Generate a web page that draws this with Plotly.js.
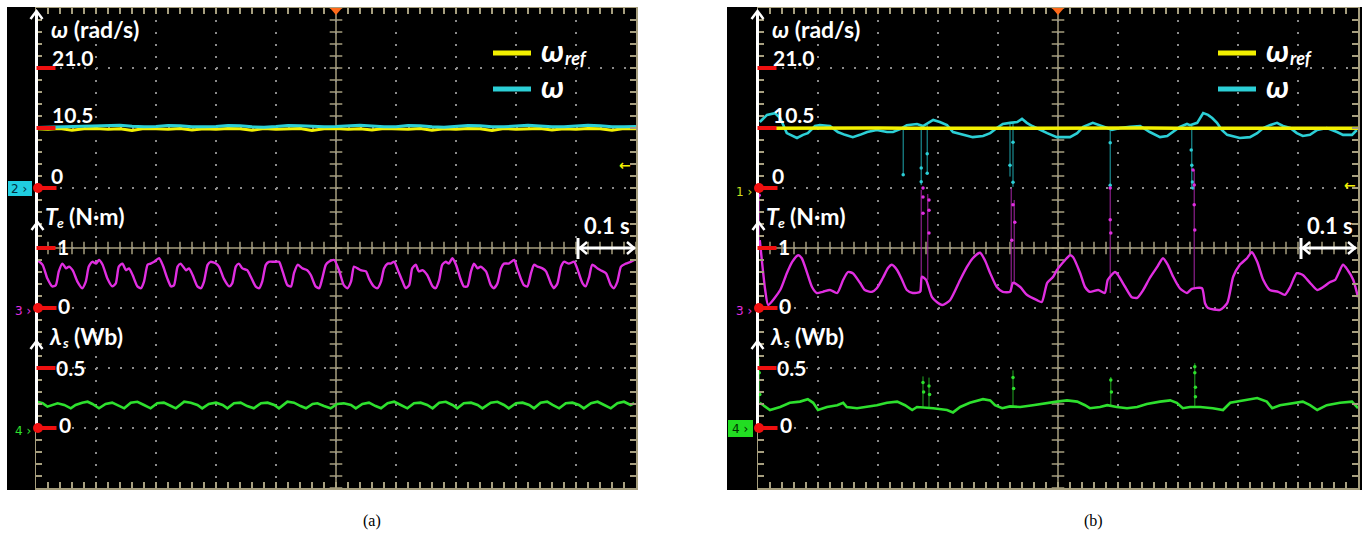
<!DOCTYPE html>
<html><head><meta charset="utf-8">
<script src="https://cdn.plot.ly/plotly-3.0.1.min.js"></script>
<style>html,body{margin:0;padding:0;background:#fff;}#chart{width:1366px;height:534px;}</style>
</head><body><div id="chart"></div>
<script>
// ===== DATA (time in s, 0.1 s/div; values in physical units) =====
// Panel (a)
const wrefA_t = [0,0.02,0.04,0.06,0.08,0.10,0.12,0.14,0.16,0.18,0.20,0.22,0.24,0.26,0.28,0.30,0.32,0.34,0.36,0.38,0.40,0.42,0.44,0.46,0.48,0.50,0.52,0.54,0.56,0.58,0.60,0.62,0.64,0.66,0.68,0.70,0.72,0.74,0.76,0.78,0.80,0.82,0.84,0.86,0.88,0.90,0.92,0.94,0.96,0.98,1.00];
const wrefA_v = [10.35,10.3,10.4,10.1,10.35,10.4,10.3,10.35,10.05,10.4,10.35,10.3,10.4,10.15,10.35,10.3,10.4,10.35,10.1,10.4,10.3,10.35,10.4,10.05,10.35,10.4,10.3,10.35,10.15,10.4,10.35,10.3,10.4,10.1,10.35,10.3,10.4,10.35,10.05,10.4,10.3,10.35,10.4,10.15,10.35,10.3,10.4,10.35,10.1,10.4,10.35];
const wA_t = wrefA_t;
const wA_v = [10.6,10.65,10.7,10.7,10.75,10.8,10.95,11.0,10.8,10.7,10.75,10.95,10.9,10.7,10.7,10.75,10.95,10.9,10.7,10.65,10.75,10.95,10.9,10.75,10.7,10.75,10.85,11.0,10.85,10.7,10.7,10.95,10.9,10.7,10.65,10.75,10.95,10.9,10.7,10.7,10.8,11.0,10.85,10.7,10.7,10.8,11.0,10.9,10.7,10.7,10.75];
const teA_t = [0.002,0.011,0.019,0.027,0.033,0.038,0.044,0.050,0.055,0.061,
 0.069,0.077,0.083,0.088,0.094,0.100,0.105,0.111,0.119,0.127,
 0.133,0.138,0.144,0.150,0.155,0.161,0.169,0.175,0.180,0.186,
 0.191,0.197,0.205,0.211,0.219,0.225,0.230,0.236,0.241,0.250,
 0.255,0.261,0.269,0.275,0.280,0.286,0.291,0.300,0.305,0.313,
 0.322,0.327,0.333,0.338,0.344,0.352,0.358,0.366,0.372,0.377,
 0.383,0.388,0.397,0.405,0.411,0.419,0.425,0.430,0.436,0.444,
 0.452,0.458,0.466,0.472,0.477,0.483,0.488,0.497,0.505,0.513,
 0.519,0.525,0.530,0.536,0.541,0.550,0.555,0.563,0.569,0.575,
 0.580,0.586,0.591,0.597,0.602,0.611,0.616,0.622,0.627,0.633,
 0.638,0.644,0.652,0.661,0.666,0.672,0.677,0.683,0.688,0.694,
 0.700,0.708,0.713,0.719,0.725,0.730,0.736,0.741,0.750,0.758,
 0.763,0.769,0.775,0.780,0.788,0.797,0.802,0.808,0.813,0.819,
 0.825,0.830,0.836,0.844,0.850,0.858,0.863,0.869,0.875,0.880,
 0.888,0.897,0.902,0.911,0.916,0.922,0.927,0.936,0.941,0.950,
 0.958,0.963,0.969,0.975,0.983,0.991,0.997];
const teA_v = [0.80,0.72,0.49,0.36,0.38,0.61,0.74,0.66,0.69,0.63,
 0.44,0.33,0.44,0.69,0.77,0.74,0.80,0.72,0.49,0.36,
 0.41,0.69,0.74,0.63,0.66,0.55,0.36,0.33,0.44,0.72,
 0.74,0.77,0.83,0.72,0.49,0.36,0.38,0.69,0.74,0.63,
 0.66,0.55,0.36,0.33,0.44,0.72,0.77,0.74,0.69,0.49,
 0.36,0.41,0.69,0.74,0.66,0.63,0.52,0.36,0.33,0.44,
 0.72,0.77,0.77,0.77,0.61,0.38,0.36,0.58,0.72,0.66,
 0.63,0.55,0.36,0.33,0.49,0.72,0.77,0.80,0.63,0.38,
 0.33,0.44,0.69,0.66,0.63,0.61,0.49,0.36,0.33,0.44,
 0.66,0.74,0.74,0.77,0.66,0.44,0.33,0.38,0.66,0.72,
 0.61,0.63,0.55,0.36,0.33,0.47,0.72,0.77,0.74,0.83,
 0.72,0.47,0.36,0.36,0.61,0.74,0.66,0.69,0.61,0.38,
 0.33,0.41,0.66,0.74,0.74,0.80,0.66,0.49,0.38,0.36,
 0.58,0.72,0.69,0.66,0.61,0.41,0.33,0.41,0.69,0.77,
 0.74,0.77,0.66,0.41,0.36,0.52,0.72,0.66,0.63,0.58,
 0.38,0.33,0.44,0.69,0.74,0.77,0.80];
const lamA_t = [0.002,0.011,0.019,0.027,0.036,0.047,0.058,0.066,0.077,0.086,
 0.094,0.105,0.116,0.127,0.136,0.147,0.158,0.169,0.180,0.191,
 0.202,0.213,0.225,0.233,0.247,0.258,0.269,0.277,0.288,0.300,
 0.311,0.319,0.330,0.341,0.352,0.363,0.375,0.386,0.397,0.405,
 0.419,0.430,0.441,0.450,0.461,0.469,0.480,0.491,0.502,0.513,
 0.525,0.533,0.544,0.555,0.566,0.575,0.586,0.597,0.608,0.619,
 0.630,0.641,0.652,0.661,0.672,0.683,0.694,0.702,0.713,0.725,
 0.736,0.744,0.758,0.769,0.780,0.788,0.800,0.811,0.822,0.830,
 0.841,0.852,0.861,0.872,0.883,0.894,0.905,0.913,0.925,0.936,
 0.947,0.958,0.969,0.980,0.991,0.997];
const lamA_v = [0.219,0.206,0.178,0.192,0.206,0.192,0.164,0.192,0.211,0.219,
 0.200,0.164,0.200,0.211,0.192,0.164,0.211,0.219,0.192,0.164,
 0.206,0.211,0.183,0.164,0.219,0.211,0.192,0.164,0.200,0.211,
 0.192,0.164,0.206,0.211,0.183,0.164,0.206,0.211,0.192,0.164,
 0.219,0.211,0.183,0.164,0.200,0.206,0.183,0.164,0.200,0.206,
 0.192,0.164,0.200,0.211,0.183,0.164,0.206,0.219,0.192,0.164,
 0.206,0.211,0.192,0.164,0.211,0.219,0.192,0.164,0.206,0.211,
 0.192,0.164,0.211,0.219,0.192,0.164,0.206,0.211,0.192,0.164,
 0.211,0.219,0.192,0.164,0.206,0.211,0.192,0.164,0.206,0.219,
 0.192,0.164,0.206,0.219,0.192,0.206];

// Panel (b)
const wrefB_t = [0,0.05,0.10,0.15,0.20,0.25,0.30,0.35,0.40,0.45,0.50,0.55,0.60,0.65,0.70,0.75,0.80,0.85,0.90,0.95,1.00];
const wrefB_v = [10.45,10.5,10.4,10.45,10.5,10.45,10.4,10.5,10.45,10.45,10.5,10.4,10.45,10.5,10.45,10.4,10.5,10.45,10.45,10.5,10.45];
const wB_t = [0.003,0.015,0.028,0.037,0.048,0.065,0.075,0.083,0.095,0.103,
 0.120,0.133,0.145,0.158,0.170,0.182,0.198,0.215,0.225,0.237,
 0.248,0.265,0.275,0.292,0.303,0.315,0.325,0.342,0.358,0.375,
 0.387,0.398,0.408,0.420,0.432,0.440,0.448,0.457,0.470,0.482,
 0.498,0.520,0.532,0.542,0.558,0.570,0.582,0.590,0.603,0.620,
 0.637,0.653,0.670,0.682,0.692,0.703,0.715,0.720,0.732,0.737,
 0.742,0.750,0.757,0.765,0.773,0.782,0.803,0.820,0.832,0.842,
 0.853,0.865,0.875,0.887,0.898,0.908,0.920,0.932,0.948,0.965,
 0.975,0.990,0.998];
const wB_v = [11.55,12.8,13.1,12.25,9.6,8.75,9.3,9.6,10.85,11.0,
 10.85,9.8,9.3,8.9,9.3,9.8,10.15,9.8,9.8,10.3,
 11.0,11.2,10.85,11.9,11.55,11.0,9.8,9.3,8.9,9.1,
 9.6,10.5,11.2,11.4,11.55,12.1,11.4,10.85,10.15,9.6,
 8.9,8.9,9.6,10.7,11.4,11.0,10.5,10.15,10.5,10.7,
 10.85,9.8,8.9,9.1,9.8,10.7,11.2,11.0,11.4,12.25,
 13.1,12.8,12.25,11.4,10.15,9.3,8.75,8.9,9.6,10.5,
 11.0,11.4,10.85,10.5,9.6,9.1,9.3,10.15,10.5,9.8,
 9.3,9.3,10.15];
const wSpike_t   = [0.242,0.272,0.282,0.420,0.425,0.587,0.723];
const wSpike_top = [10.3,11.0,11.0,11.3,11.4,10.5,11.0];
const wSpike_low = [2.3,0.5,2.6,2.0,0.2,0.5,0.0];
const wDot_t = [0.242,0.272,0.272,0.282,0.282,0.420,0.425,0.425,0.587,0.587,0.722,0.723,0.724,0.725];
const wDot_v = [2.3,3.5,1.1,6.0,2.6,4.0,8.0,1.0,7.9,0.5,6.65,4.0,1.05,0.0];

const teB_t = [0.003,0.012,0.017,0.037,0.048,0.057,0.067,0.073,0.082,0.090,
 0.098,0.108,0.120,0.132,0.142,0.150,0.158,0.170,0.178,0.190,
 0.198,0.208,0.217,0.223,0.232,0.240,0.248,0.258,0.270,0.273,
 0.280,0.290,0.298,0.307,0.320,0.337,0.348,0.358,0.370,0.378,
 0.387,0.398,0.408,0.420,0.425,0.437,0.448,0.465,0.473,0.482,
 0.492,0.498,0.512,0.520,0.525,0.537,0.545,0.553,0.567,0.578,
 0.583,0.595,0.600,0.612,0.623,0.632,0.642,0.653,0.665,0.675,
 0.683,0.692,0.703,0.715,0.723,0.740,0.745,0.750,0.770,0.782,
 0.792,0.803,0.815,0.823,0.832,0.842,0.853,0.867,0.878,0.887,
 0.898,0.908,0.920,0.932,0.942,0.953,0.962,0.975,0.983,0.992,
 1.000];
const teB_v = [1.13,0.30,0.05,0.30,0.58,0.77,0.88,0.83,0.58,0.35,
 0.25,0.27,0.30,0.25,0.47,0.60,0.58,0.42,0.30,0.27,
 0.33,0.50,0.67,0.72,0.63,0.47,0.30,0.25,0.27,0.52,
 0.47,0.18,0.10,0.05,0.13,0.47,0.68,0.83,0.92,0.80,
 0.58,0.35,0.27,0.27,0.42,0.35,0.22,0.13,0.10,0.42,
 0.52,0.63,0.80,0.88,0.85,0.58,0.35,0.27,0.30,0.25,
 0.47,0.60,0.55,0.35,0.18,0.17,0.30,0.50,0.68,0.83,
 0.72,0.52,0.33,0.25,0.32,0.33,0.08,0.00,-0.03,0.08,
 0.52,0.72,0.83,0.93,0.77,0.47,0.30,0.27,0.22,0.35,
 0.58,0.55,0.42,0.30,0.35,0.43,0.47,0.72,0.63,0.47,
 0.18];
const teSpike_t    = [0.002,0.272,0.283,0.422,0.427,0.587,0.727];
const teSpike_base = [1.13,0.27,0.47,0.27,0.42,0.25,0.32];
const teSpike_peak = [1.9,1.97,1.9,2.0,1.8,2.0,2.3];
const teDot_t = [0.002,0.275,0.275,0.275,0.285,0.285,0.285,0.425,0.428,0.423,0.587,0.587,0.588,0.725,0.727,0.727,0.728];
const teDot_v = [1.88,2.0,1.85,1.58,1.8,1.63,1.25,1.72,1.43,1.13,2.0,1.47,1.25,2.3,2.05,1.72,1.3];

const lamB_t = [0.003,0.020,0.037,0.053,0.070,0.083,0.092,0.100,0.115,0.132,
 0.142,0.148,0.165,0.182,0.198,0.215,0.232,0.245,0.257,0.265,
 0.292,0.315,0.325,0.337,0.353,0.375,0.387,0.395,0.407,0.420,
 0.437,0.458,0.482,0.498,0.515,0.532,0.545,0.553,0.570,0.582,
 0.598,0.615,0.632,0.648,0.670,0.687,0.698,0.708,0.720,0.737,
 0.758,0.775,0.787,0.808,0.832,0.848,0.857,0.870,0.892,0.908,
 0.920,0.932,0.948,0.970,0.990,1.000];
const lamB_v = [0.21,0.15,0.175,0.21,0.22,0.24,0.21,0.15,0.175,0.19,
 0.21,0.175,0.165,0.175,0.19,0.21,0.22,0.19,0.15,0.175,
 0.165,0.15,0.13,0.175,0.21,0.24,0.23,0.19,0.165,0.18,
 0.175,0.19,0.21,0.22,0.23,0.22,0.19,0.165,0.175,0.19,
 0.175,0.165,0.175,0.20,0.22,0.23,0.21,0.165,0.175,0.175,
 0.165,0.15,0.21,0.23,0.25,0.22,0.165,0.19,0.21,0.22,
 0.19,0.15,0.19,0.21,0.22,0.165];
const lamSpike_t    = [0.002,0.275,0.285,0.425,0.588,0.728];
const lamSpike_base = [0.21,0.175,0.165,0.18,0.19,0.175];
const lamSpike_peak = [0.58,0.43,0.42,0.48,0.425,0.54];
const lamDot_t = [0.002,0.003,0.275,0.276,0.285,0.286,0.425,0.426,0.588,0.589,0.728,0.728,0.729,0.729];
const lamDot_v = [0.46,0.28,0.38,0.30,0.35,0.28,0.42,0.33,0.40,0.30,0.51,0.46,0.34,0.26];

// axis scales (per division) and zero positions (division index from bottom)
const wScale = 10.5, wZero = 5;     // rad/s per div
const teScale = 1, teZero = 3;      // N·m per div
const lamScale = 0.5, lamZero = 1;  // Wb per div
const tickLabelsW = ['21.0','10.5','0'];
const tickLabelsTe = ['1','0'];
const tickLabelsLam = ['0.5','0'];

// ===== STYLE / LAYOUT =====
const W = 1366, H = 534;
const PX = x => x / W, PY = y => 1 - y / H;
const TAN = '#a69e7e', GRIDDOT = '#8a8a8a';
const YEL = '#f2f000', CYA = '#2ccfd6', MAG = '#e02ee0', GRN = '#2ee02e', RED = '#f01010';
const FONT = 'Lato, "Open Sans", "Noto Sans", sans-serif';
const SMALL = '"DejaVu Sans", sans-serif';
const gridTop = 8, gridBot = 488;
const panels = [{x0: 36, x1: 636, ox: 0}, {x0: 758, x1: 1358, ox: 721}];

function gridX(i) {
  const p = panels[i];
  return {domain: [PX(p.x0), PX(p.x1)], anchor: i ? 'y2' : 'y', range: [0, 1], tick0: 0, dtick: 0.1,
    showgrid: true, gridcolor: GRIDDOT, gridwidth: 2, griddash: '2px,10px', zeroline: false,
    showline: true, linecolor: TAN, linewidth: 1.5, mirror: 'allticks', ticks: 'inside', ticklen: 6,
    tickwidth: 1.5, tickcolor: TAN, showticklabels: false, fixedrange: true,
    minor: {dtick: 0.02, tick0: 0, ticks: 'inside', ticklen: 6, tickwidth: 1.5, tickcolor: TAN, showgrid: false}};
}
function gridY(i) {
  return {domain: [PY(gridBot), PY(gridTop)], anchor: i ? 'x2' : 'x', range: [0, 8], tick0: 0, dtick: 1,
    showgrid: true, gridcolor: GRIDDOT, gridwidth: 2, griddash: '2px,10px', zeroline: false,
    showline: true, linecolor: TAN, linewidth: 1.5, mirror: 'allticks', ticks: 'inside', ticklen: 6,
    tickwidth: 1.5, tickcolor: TAN, showticklabels: false, fixedrange: true,
    minor: {dtick: 0.2, tick0: 0, ticks: 'inside', ticklen: 6, tickwidth: 1.5, tickcolor: TAN, showgrid: false}};
}
function ovY(base, xa, scale, zero) {
  return {overlaying: base, anchor: xa, range: [-zero * scale, (8 - zero) * scale], visible: false, fixedrange: true};
}

const layout = {
  width: W, height: H, autosize: false, margin: {l: 0, r: 0, t: 0, b: 0},
  paper_bgcolor: '#ffffff', plot_bgcolor: '#000000', showlegend: false, hovermode: false,
  xaxis: gridX(0), yaxis: gridY(0), xaxis2: gridX(1), yaxis2: gridY(1),
  yaxis3: ovY('y', 'x', wScale, wZero), yaxis4: ovY('y', 'x', teScale, teZero), yaxis5: ovY('y', 'x', lamScale, lamZero),
  yaxis6: ovY('y2', 'x2', wScale, wZero), yaxis7: ovY('y2', 'x2', teScale, teZero), yaxis8: ovY('y2', 'x2', lamScale, lamZero),
  shapes: [], annotations: []
};

const S = layout.shapes, A = layout.annotations;
function line(x0, y0, x1, y1, color, w, layer) {
  S.push({type: 'line', xref: 'paper', yref: 'paper', x0: PX(x0), y0: PY(y0), x1: PX(x1), y1: PY(y1),
    line: {color: color, width: w}, layer: layer || 'above'});
}
function path(pts, color, w, fill) {
  const d = pts.map((p, k) => (k ? 'L' : 'M') + PX(p[0]).toFixed(5) + ',' + PY(p[1]).toFixed(5)).join(' ') + (fill ? ' Z' : '');
  S.push({type: 'path', xref: 'paper', yref: 'paper', path: d, line: {color: color || fill, width: fill ? 0 : w},
    fillcolor: fill || 'rgba(0,0,0,0)', layer: 'above'});
}
function rect(x0, y0, x1, y1, fill, layer) {
  S.push({type: 'rect', xref: 'paper', yref: 'paper', x0: PX(x0), y0: PY(y1), x1: PX(x1), y1: PY(y0),
    fillcolor: fill, line: {width: 0}, layer: layer || 'above'});
}
function dot(cx, cy, r, fill) {
  S.push({type: 'circle', xref: 'paper', yref: 'paper', x0: PX(cx - r), x1: PX(cx + r), y0: PY(cy + r), y1: PY(cy - r),
    fillcolor: fill, line: {width: 0}, layer: 'above'});
}
function text(t, x, y, size, color, family, extra) {
  A.push(Object.assign({xref: 'paper', yref: 'paper', x: PX(x), y: PY(y), xanchor: 'left', yanchor: 'middle',
    text: t, showarrow: false, borderpad: 0, font: {family: family || FONT, size: size, color: color}}, extra || {}));
}
const divY = d => gridBot - d * 60;  // screen y of a division line (for decorations)

// black scope frames
rect(7, 7, 637, 490, '#000000', 'below');
rect(727, 7, 1362, 490, '#000000', 'below');

panels.forEach((p, i) => {
  const ox = p.ox, ax = 36.5 + ox;
  // center cross (solid)
  S.push({type: 'line', xref: i ? 'x2' : 'x', yref: i ? 'y2' : 'y', x0: 0.5, x1: 0.5, y0: 0, y1: 8, line: {color: TAN, width: 1.5}, layer: 'below'});
  S.push({type: 'line', xref: i ? 'x2' : 'x', yref: i ? 'y2' : 'y', x0: 0, x1: 1, y0: 4, y1: 4, line: {color: TAN, width: 1.5}, layer: 'below'});
  // white vertical axis with arrows
  line(ax, 11, ax, divY(lamZero), '#ffffff', 3);
  path([[ax - 6, 19], [ax, 11], [ax + 6, 19]], '#ffffff', 2.5);
  path([[ax - 5, 230], [ax + 1, 222], [ax + 7, 230]], '#ffffff', 2.5);
  path([[ax - 6, 349], [ax, 341], [ax + 6, 349]], '#ffffff', 2.5);
  // red scale markers
  [wZero + 2, wZero + 1, teZero + 1, lamZero + 1].forEach(d => line(ax, divY(d), ax + 19, divY(d), RED, 4));
  [wZero, teZero, lamZero].forEach(d => { line(ax + 2, divY(d), ax + 20, divY(d), RED, 4); dot(ax + 1.5, divY(d), 5, RED); });
  // axis texts
  text('<b><i>ω</i> (rad/s)</b>', 50 + ox, 29, 23, '#fff');
  text('<b>' + tickLabelsW[0] + '</b>', 51 + ox, 57, 21, '#fff');
  text('<b>' + tickLabelsW[1] + '</b>', 51 + ox, 115, 21, '#fff');
  text('<b>' + tickLabelsW[2] + '</b>', 50 + ox, 175, 21, '#fff');
  text('<b><i>T</i></b>', 44 + ox, 216, 23, '#fff');
  text('<b><i>e</i></b>', 56 + ox, 222, 14, '#fff');
  text('<b>(N·m)</b>', 68 + ox, 216, 23, '#fff');
  text('<b>' + tickLabelsTe[0] + '</b>', 56 + ox, 246, 21, '#fff');
  text('<b>' + tickLabelsTe[1] + '</b>', 57 + ox, 305, 21, '#fff');
  text('<b><i>λ</i></b>', 48 + ox, 336, 23, '#fff');
  text('<b><i>s</i></b>', 61 + ox, 342, 14, '#fff');
  text('<b>(Wb)</b>', 73 + ox, 336, 23, '#fff');
  text('<b>' + tickLabelsLam[0] + '</b>', 55 + ox, 367, 21, '#fff');
  text('<b>' + tickLabelsLam[1] + '</b>', 58 + ox, 425, 21, '#fff');
  // 0.1 s time marker
  const sx = 578 + ox + (i ? 2 : 0), ex = 636 + ox;
  text('<b>0.1 s</b>', sx + 5, 226, 22, '#fff');
  line(sx, 238, sx, 259, '#ffffff', 3);
  line(sx + 1, 248, ex - 1, 248, '#ffffff', 3);
  path([[sx + 9, 242], [sx + 2, 248], [sx + 9, 254]], '#ffffff', 2.5);
  path([[ex - 9, 242], [ex - 2, 248], [ex - 9, 254]], '#ffffff', 2.5);
  // trigger marker at top center
  const cx = (p.x0 + p.x1) / 2;
  path([[cx - 6, 8], [cx + 6, 8], [cx, 15]], null, 0, '#ff6a1a');
});

// legends
line(493, 53, 531, 53, YEL, 5); line(493, 89, 531, 89, CYA, 5);
text('<b><i>ω</i></b>', 540, 50, 31, '#fff'); text('<b><i>ref</i></b>', 564, 58, 18, '#fff');
text('<b><i>ω</i></b>', 540, 86, 31, '#fff');
line(1218, 53, 1256, 53, YEL, 5); line(1218, 89, 1256, 89, CYA, 5);
text('<b><i>ω</i></b>', 1265, 50, 31, '#fff'); text('<b><i>ref</i></b>', 1289, 58, 18, '#fff');
text('<b><i>ω</i></b>', 1265, 86, 31, '#fff');

// channel markers
rect(8, 181, 32, 196, '#20cde0');
text('2 ›', 10, 189, 12, '#003040', SMALL);
text('3 ›', 14, 311, 12, MAG, SMALL);
text('4 ›', 14, 431, 12, GRN, SMALL);
text('1 ›', 735, 192, 12, '#d0e020', SMALL);
text('3 ›', 735, 311, 12, MAG, SMALL);
rect(728, 420, 753, 437, '#22dd22');
text('4 ›', 731, 429, 12, '#003000', SMALL);
// trigger level arrows
text('<b>←</b>', 618, 165, 14, YEL, SMALL);
text('<b>←</b>', 1343, 185, 14, YEL, SMALL);
// captions
text('(a)', 372, 521, 16, '#000', '"Liberation Serif", "DejaVu Serif", serif', {xanchor: 'center'});
text('(b)', 1093, 521, 16, '#000', '"Liberation Serif", "DejaVu Serif", serif', {xanchor: 'center'});

// ===== TRACES =====
function tr(x, y, xa, ya, color, w, extra) {
  return Object.assign({type: 'scatter', mode: 'lines', x: x, y: y, xaxis: xa, yaxis: ya,
    line: {color: color, width: w}, hoverinfo: 'skip', cliponaxis: true}, extra || {});
}
function spikes(t, a, b) {
  const x = [], y = [];
  t.forEach((v, k) => { x.push(v, v, null); y.push(a[k], b[k], null); });
  return [x, y];
}
// center-line minor ticks (grid decoration)
function centerTicks(xa, ya) {
  const hx = [], hy = [], vx = [], vy = [];
  for (let k = 0; k <= 50; k++) { hx.push(k * 0.02); hy.push(4); }
  for (let k = 0; k <= 40; k++) { vx.push(0.5); vy.push(k * 0.2); }
  return [
    {type: 'scatter', mode: 'markers', x: hx, y: hy, xaxis: xa, yaxis: ya, hoverinfo: 'skip',
      marker: {symbol: 'line-ns', size: 9, line: {color: TAN, width: 1.5}}},
    {type: 'scatter', mode: 'markers', x: vx, y: vy, xaxis: xa, yaxis: ya, hoverinfo: 'skip',
      marker: {symbol: 'line-ew', size: 9, line: {color: TAN, width: 1.5}}}
  ];
}

const wS = spikes(wSpike_t, wSpike_top, wSpike_low);
const teS = spikes(teSpike_t, teSpike_base, teSpike_peak);
const lamS = spikes(lamSpike_t, lamSpike_base, lamSpike_peak);

const data = [].concat(
  centerTicks('x', 'y'), centerTicks('x2', 'y2'),
  [
    // panel (a)
    tr(wrefA_t, wrefA_v, 'x', 'y3', YEL, 3),
    tr(wA_t, wA_v, 'x', 'y3', CYA, 3),
    tr(teA_t, teA_v, 'x', 'y4', MAG, 2.4, {line: {color: MAG, width: 2.4, shape: 'spline', smoothing: 0.6}}),
    tr(lamA_t, lamA_v, 'x', 'y5', GRN, 2.6),
    // panel (b)
    tr(wS[0], wS[1], 'x2', 'y6', '#1fa7ae', 1),
    tr(wDot_t, wDot_v, 'x2', 'y6', CYA, 0, {mode: 'markers', marker: {size: 3.5, color: CYA}}),
    tr(wB_t, wB_v, 'x2', 'y6', CYA, 2.6),
    tr(wrefB_t, wrefB_v, 'x2', 'y6', YEL, 3.5),
    tr(teS[0], teS[1], 'x2', 'y7', '#a826a8', 1),
    tr(teDot_t, teDot_v, 'x2', 'y7', MAG, 0, {mode: 'markers', marker: {size: 3.5, color: MAG}}),
    tr(teB_t, teB_v, 'x2', 'y7', MAG, 2.4, {line: {color: MAG, width: 2.4, shape: 'spline', smoothing: 0.6}}),
    tr(lamS[0], lamS[1], 'x2', 'y8', '#22a822', 1),
    tr(lamDot_t, lamDot_v, 'x2', 'y8', GRN, 0, {mode: 'markers', marker: {size: 3.5, color: GRN}}),
    tr(lamB_t, lamB_v, 'x2', 'y8', GRN, 2.6)
  ]
);

Plotly.newPlot('chart', data, layout, {staticPlot: true, displayModeBar: false});
</script></body></html>
